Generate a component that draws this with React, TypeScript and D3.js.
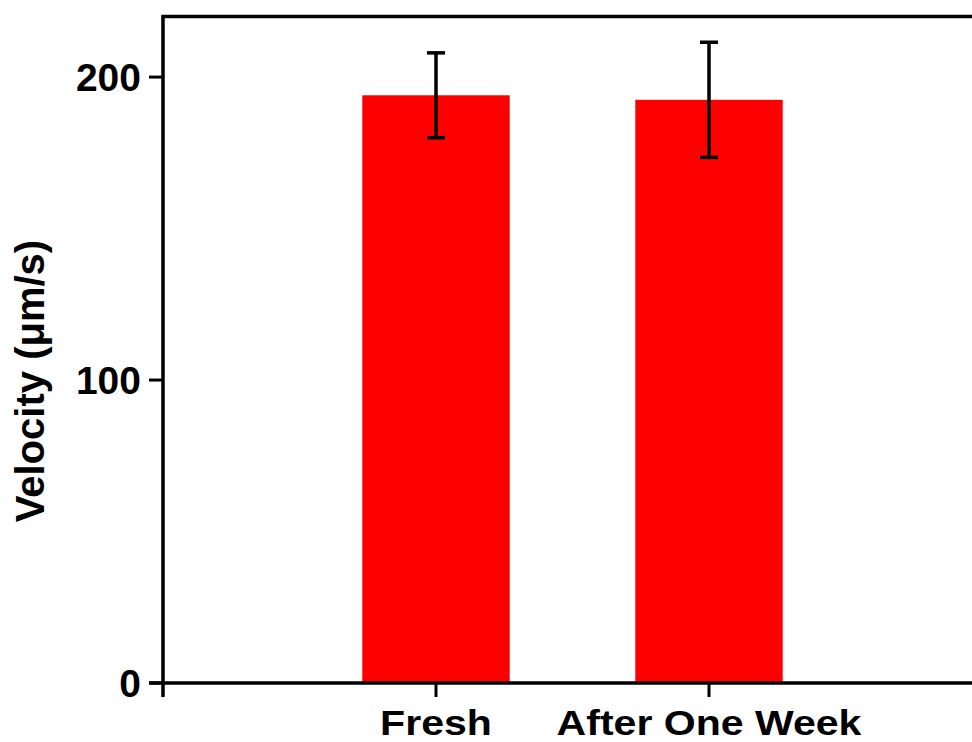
import React from "react";
import * as d3 from "d3";

// values
const categories = ["Fresh", "After One Week"];
const velocity = [194, 192.5];
const errors = [14, 19];
const yTicks = [0, 100, 200];

const W = 972;
const H = 742;
const left = 163;
const top = 16.5;
const bottom = 683;
const right = 982;
const font = "'Liberation Sans', Arial, Helvetica, sans-serif";

const App = () => {
  const x = d3.scalePoint<string>().domain(categories).range([left, right]).padding(1);
  const y = d3.scaleLinear().domain([0, 220]).range([bottom, top]);
  const barW = x.step() * 0.54;
  const tick = 14;
  const cap = 9;

  return (
    <svg
      width={W}
      height={H}
      style={{ position: "absolute", left: 0, top: 0, background: "#fff" }}
    >
      {categories.map((c, i) => {
        const cx = x(c) as number;
        const hi = y(velocity[i] + errors[i]);
        const lo = y(velocity[i] - errors[i]);
        return (
          <g key={c}>
            <rect
              x={cx - barW / 2}
              y={y(velocity[i])}
              width={barW}
              height={y(0) - y(velocity[i])}
              fill="#ff0000"
            />
            <g stroke="#000" strokeWidth={3.5}>
              <line x1={cx} x2={cx} y1={hi} y2={lo} />
              <line x1={cx - cap} x2={cx + cap} y1={hi} y2={hi} />
              <line x1={cx - cap} x2={cx + cap} y1={lo} y2={lo} />
              <line x1={cx} x2={cx} y1={bottom} y2={bottom + tick} strokeWidth={3} />
            </g>
            <text
              x={cx}
              y={735}
              textAnchor="middle"
              fontFamily={font}
              fontWeight="bold"
              fontSize={36}
              transform={`translate(${cx},0) scale(1.14,1) translate(${-cx},0)`}
            >
              {c}
            </text>
          </g>
        );
      })}

      {/* frame */}
      <path
        d={`M${W},${top}H${left}V${bottom + tick}M${left - tick},${bottom}H${W}`}
        fill="none"
        stroke="#000"
        strokeWidth={3.5}
      />

      {yTicks.map(t => (
        <g key={t}>
          <line x1={left - tick} x2={left} y1={y(t)} y2={y(t)} stroke="#000" strokeWidth={3} />
          <text
            x={141}
            y={y(t)}
            dy="0.36em"
            textAnchor="end"
            fontFamily={font}
            fontWeight="bold"
            fontSize={39}
          >
            {t}
          </text>
        </g>
      ))}

      <text
        transform={`translate(44,381) rotate(-90)`}
        textAnchor="middle"
        fontFamily={font}
        fontWeight="bold"
        fontSize={40}
      >
        Velocity (μm/s)
      </text>
    </svg>
  );
};

export default App;
